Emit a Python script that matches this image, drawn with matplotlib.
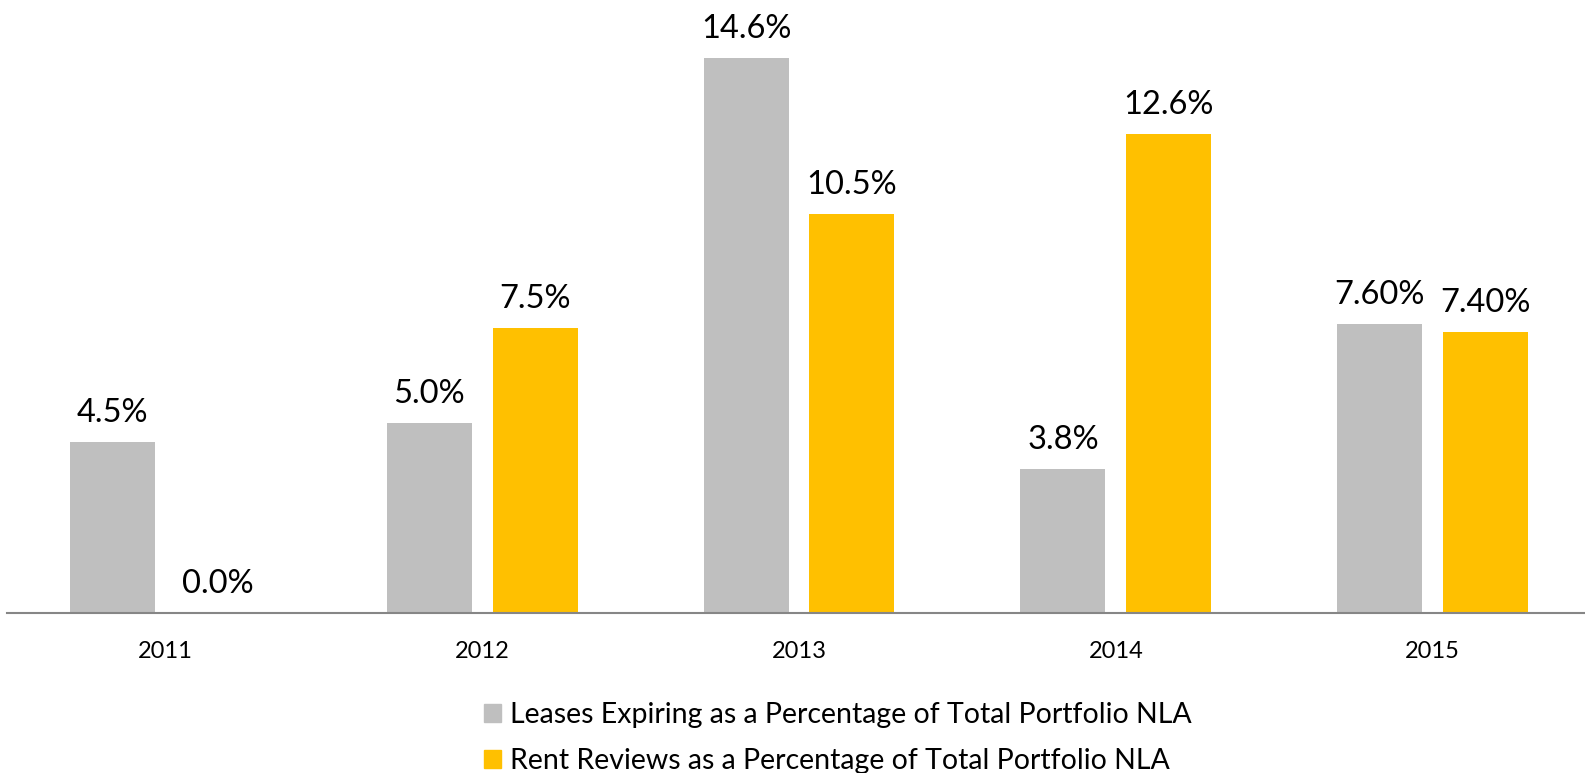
import matplotlib.pyplot as plt
import matplotlib.patches as mpatches
import numpy as np

years = ['2011', '2012', '2013', '2014', '2015']
leases = [4.5, 5.0, 14.6, 3.8, 7.6]
reviews = [0.0, 7.5, 10.5, 12.6, 7.4]
lease_labels = ['4.5%', '5.0%', '14.6%', '3.8%', '7.60%']
review_labels = ['0.0%', '7.5%', '10.5%', '12.6%', '7.40%']
series_names = ['Leases Expiring as a Percentage of Total Portfolio NLA',
                'Rent Reviews as a Percentage of Total Portfolio NLA']

GREY = '#BFBFBF'
YELLOW = '#FFC000'

plt.rcParams['font.family'] = ['Lato', 'DejaVu Sans']

fig = plt.figure(figsize=(15.85, 7.73), dpi=100)
ax = fig.add_axes([7 / 1585, 160 / 773, 1584 / 1585, 608 / 773])

x = np.arange(len(years))
w = 0.268
off = 0.167
b1 = ax.bar(x - off, leases, w, color=GREY)
b2 = ax.bar(x + off, reviews, w, color=YELLOW)
ax.bar_label(b1, labels=lease_labels, padding=10, fontsize=23.5)
ax.bar_label(b2, labels=review_labels, padding=10, fontsize=23.5)

ax.set_xlim(-0.5, 4.5)
ax.set_ylim(0, 16)
ax.set_xticks(x)
ax.set_xticklabels(years, fontsize=17)
ax.tick_params(axis='x', length=0, pad=20)
ax.set_yticks([])
for s in ['top', 'right', 'left']:
    ax.spines[s].set_visible(False)
ax.spines['bottom'].set_color('#868686')
ax.spines['bottom'].set_linewidth(1.5)

handles = [mpatches.Patch(color=GREY), mpatches.Patch(color=YELLOW)]
fig.legend(handles, series_names, loc='center left',
           bbox_to_anchor=(458 / 1585, 1 - 738 / 773), frameon=False,
           fontsize=20.5, handlelength=0.62, handleheight=0.62,
           handletextpad=0.3, labelspacing=0.72)

plt.savefig('out.png', dpi=100)
